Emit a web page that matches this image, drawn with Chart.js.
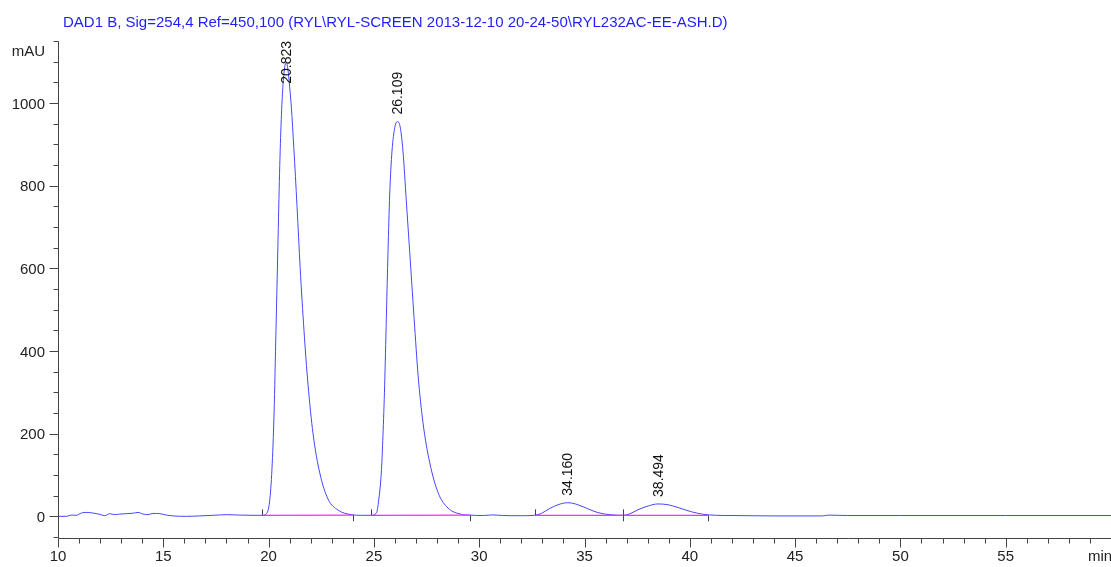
<!DOCTYPE html>
<html>
<head>
<meta charset="utf-8">
<script src="https://cdn.jsdelivr.net/npm/chart.js"></script>
<style>
  body { margin: 0; background: #fff; }
  canvas { display: block; }
</style>
</head>
<body>
<canvas id="chrom" width="1111" height="567"></canvas>
<script>
const titleText = "DAD1 B, Sig=254,4 Ref=450,100 (RYL\\RYL-SCREEN 2013-12-10 20-24-50\\RYL232AC-EE-ASH.D)";

// retention time (min) and signal (mAU)
const timeMin = [
  10, 10.4, 10.64, 10.87, 11.11, 11.35, 11.66, 11.98, 12.22, 12.45, 12.69, 12.93,
  13.25, 13.56, 13.8, 14.04, 14.27, 14.51, 14.83, 15.15, 15.46, 16.1, 16.73, 17.36,
  18.0, 18.63, 19.26, 19.69, 19.89, 20.05, 20.16, 20.26, 20.35, 20.44, 20.52, 20.6,
  20.68, 20.76, 20.83, 20.9, 20.98, 21.08, 21.2, 21.35, 21.5, 21.68, 21.87, 22.11,
  22.43, 22.82, 23.3, 23.93, 24.4, 24.85, 25.12, 25.23, 25.36, 25.43, 25.51, 25.59,
  25.67, 25.75, 25.86, 25.99, 26.11, 26.24, 26.38, 26.54, 26.7, 26.91, 27.1, 27.33,
  27.65, 28.05, 28.52, 29.15, 29.55, 30.2, 30.65, 31.1, 32.0, 32.63, 32.95, 33.35,
  33.74, 34.2, 34.69, 35.17, 35.64, 36.2, 36.83, 37.15, 37.54, 38.02, 38.49, 38.97,
  39.52, 40.08, 40.63, 41.26, 42, 44, 46.3, 46.6, 47.0, 47.5, 50, 55, 60
];
const signalMAU = [
  0, 0, 3, 2.5, 8, 9.5, 8, 5, 1.5, 6.5, 4, 5.5,
  6.5, 7.5, 9.5, 5.5, 4, 7, 6.5, 3, 1, 0, 1, 2.5,
  4, 3, 2.5, 2.5, 6, 37, 115, 250, 450, 650, 830, 960,
  1040, 1085, 1098, 1088, 1050, 990, 890, 750, 600, 450, 320, 200,
  105, 42, 15, 4, 2.5, 2.5, 8, 40, 113, 195, 316, 478,
  640, 778, 884, 940, 955, 944, 884, 762, 640, 478, 340, 227,
  130, 57, 20, 5, 3, 2, 3.5, 2, 1.5, 2.5, 7, 19,
  28, 33, 28, 18, 9, 4, 2.5, 6, 16, 25, 30, 28,
  20, 11, 5, 2.5, 2, 1, 1, 3, 2.5, 2, 2, 2, 2
];

// integration: peak start / end and baseline level
const peakStart = [19.69, 24.85, 32.63, 36.83];
const peakEnd = [24.0, 29.55, 36.83, 40.86];
const baseStartMAU = [2.5, 2.5, 2.5, 2.5];
const baseEndMAU = [3, 3, 2.5, 2.5];

const peakRT = [20.823, 26.109, 34.160, 38.494];
const peakLabels = ["20.823", "26.109", "34.160", "38.494"];
const peakTopMAU = [1098, 955, 33, 30];

const yTickValues = [0, 200, 400, 600, 800, 1000];
const yTickLabels = ["0", "200", "400", "600", "800", "1000"];
const xTickValues = [10, 15, 20, 25, 30, 35, 40, 45, 50, 55, 60];
const xTickLabels = ["10", "15", "20", "25", "30", "35", "40", "45", "50", "55", "min"];

const FONT = "15px 'Liberation Sans', Arial, sans-serif";
const PEAK_FONT = "14px 'Liberation Sans', Arial, sans-serif";

const signalPoints = timeMin.map((t, i) => ({ x: t, y: signalMAU[i] }));

const baselineSets = peakStart.map((s, i) => ({
  data: [{ x: s, y: baseStartMAU[i] }, { x: peakEnd[i], y: baseEndMAU[i] }],
  borderColor: "rgb(255, 40, 255)",
  borderWidth: 1.2,
  pointRadius: 0,
  order: 0,
}));

const chromPlugin = {
  id: "chromDecor",
  afterDraw(chart) {
    const ctx = chart.ctx;
    const xs = chart.scales.x;
    const ys = chart.scales.y;
    const area = chart.chartArea;
    ctx.save();

    // title
    ctx.font = FONT;
    ctx.fillStyle = "rgb(30, 30, 255)";
    ctx.textAlign = "left";
    ctx.textBaseline = "alphabetic";
    ctx.fillText(titleText, 63, 27);

    // axes
    const axisY = Math.round(area.bottom) + 1.5;
    const axisX = Math.round(area.left) + 0.5;
    ctx.strokeStyle = "#444";
    ctx.lineWidth = 1;
    ctx.beginPath();
    ctx.moveTo(axisX, Math.round(area.top) + 0.5);
    ctx.lineTo(axisX, axisY);
    ctx.lineTo(area.right + 1, axisY);
    ctx.stroke();

    // y ticks every 50 mAU
    ctx.beginPath();
    for (let v = -50; v <= 1150; v += 50) {
      const y = Math.round(ys.getPixelForValue(v)) + 0.5;
      const len = yTickValues.includes(v) ? 9 : 5;
      ctx.moveTo(axisX - len, y);
      ctx.lineTo(axisX, y);
    }
    // x ticks every minute
    for (let t = 10; t <= 60; t += 1) {
      const x = Math.round(xs.getPixelForValue(t)) + 0.5;
      const len = t % 5 === 0 ? 9 : 5;
      ctx.moveTo(x, axisY);
      ctx.lineTo(x, axisY + len);
    }
    ctx.stroke();

    ctx.fillStyle = "#222";
    ctx.textAlign = "right";
    yTickValues.forEach((v, i) => {
      ctx.fillText(yTickLabels[i], 45, ys.getPixelForValue(v) + 5.5);
    });
    ctx.fillText("mAU", 45, 55.5);

    ctx.textAlign = "center";
    xTickValues.forEach((t, i) => {
      if (xTickLabels[i] === "min") {
        ctx.textAlign = "left";
        ctx.fillText("min", 1088, 561);
        ctx.textAlign = "center";
      } else {
        ctx.fillText(xTickLabels[i], xs.getPixelForValue(t), 561);
      }
    });

    // peak start / end markers
    ctx.strokeStyle = "#444";
    ctx.beginPath();
    peakStart.forEach((s, i) => {
      const x = Math.round(xs.getPixelForValue(s)) + 0.5;
      const y = ys.getPixelForValue(baseStartMAU[i]);
      ctx.moveTo(x, y - 6);
      ctx.lineTo(x, y);
    });
    peakEnd.forEach((e, i) => {
      const x = Math.round(xs.getPixelForValue(e)) + 0.5;
      const y = ys.getPixelForValue(baseEndMAU[i]);
      ctx.moveTo(x, y);
      ctx.lineTo(x, y + 6);
    });
    ctx.stroke();

    // retention time labels, rotated
    ctx.font = PEAK_FONT;
    ctx.fillStyle = "#111";
    ctx.textAlign = "left";
    ctx.textBaseline = "middle";
    peakRT.forEach((rt, i) => {
      const w = ctx.measureText(peakLabels[i]).width;
      const x = xs.getPixelForValue(rt) + 1;
      let y = ys.getPixelForValue(peakTopMAU[i]) - 7;
      if (y - w < area.top) y = area.top + w;
      ctx.save();
      ctx.translate(x, y);
      ctx.rotate(-Math.PI / 2);
      ctx.fillText(peakLabels[i], 0, 0);
      ctx.restore();
    });

    ctx.restore();
  },
};

new Chart(document.getElementById("chrom"), {
  type: "line",
  data: {
    datasets: [
      ...baselineSets,
      {
        data: signalPoints,
        borderColor: "rgb(70, 70, 255)",
        borderWidth: 1,
        pointRadius: 0,
        cubicInterpolationMode: "monotone",
        order: 1,
      },
    ],
  },
  options: {
    responsive: false,
    animation: false,
    layout: { padding: { left: 58, top: 41, right: 0, bottom: 30 } },
    plugins: { legend: { display: false }, tooltip: { enabled: false } },
    scales: {
      x: { type: "linear", min: 10, max: 60, display: false },
      y: { min: -50, max: 1150, display: false },
    },
  },
  plugins: [chromPlugin],
});
</script>
</body>
</html>
